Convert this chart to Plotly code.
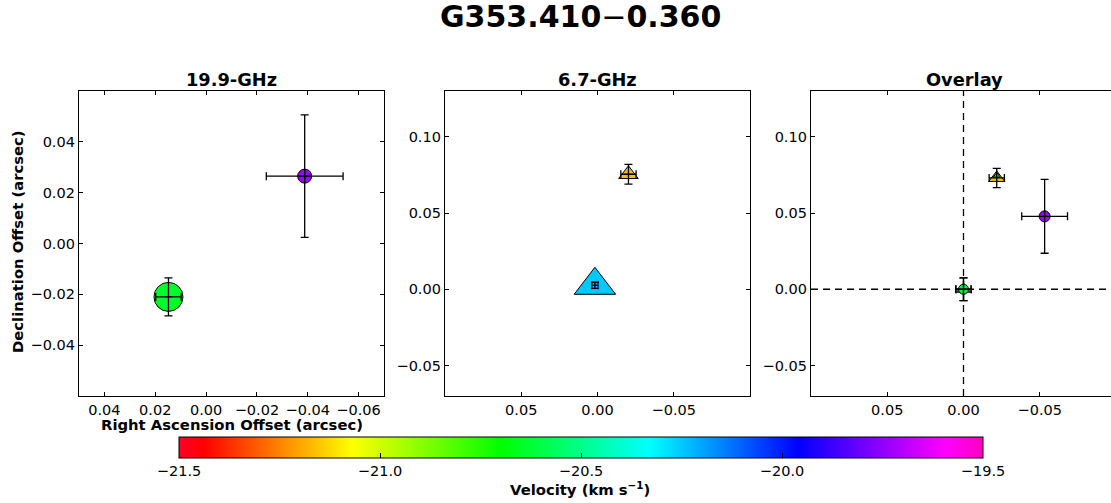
import plotly.graph_objects as go

W, H = 1111, 503

# ---------------- data ----------------
# 19.9-GHz panel (circles)
p1_ra = [0.0148, -0.0388]
p1_dec = [-0.0210, 0.0265]
p1_ra_err = [0.0050, 0.0151]
p1_dec_err = [0.0075, 0.0241]
p1_fit_err = [0.0014, 0.0020]
p1_vel = [-20.64, -19.73]
p1_size = [29, 14]

# 6.7-GHz panel (triangles)
p2_ra = [-0.0203, 0.0017]
p2_dec = [0.0754, 0.0026]
p2_ra_err = [0.0050, 0.0020]
p2_dec_err = [0.0065, 0.0020]
p2_fit_err = [0.0030, 0.0013]
p2_vel = [-21.17, -20.25]
p2_size = [17, 36]

# Overlay panel
p3c_ra = [0.0, -0.0532]
p3c_dec = [0.0, 0.0478]
p3c_ra_err = [0.0050, 0.0150]
p3c_dec_err = [0.0075, 0.0242]
p3c_vel = [-20.64, -19.73]
p3c_size = [10, 11]

p3t_ra = [0.0, -0.0218]
p3t_dec = [0.0, 0.0730]
p3t_ra_err = [0.0050, 0.0050]
p3t_dec_err = [0.0075, 0.0063]
p3t_vel = [-20.25, -21.17]
p3t_size = [12, 14]

p3g_ra = [-0.0218]
p3g_dec = [0.0745]
p3g_vel = [-20.64]
p3g_size = [6]

vel_ticks = [-21.5, -21.0, -20.5, -20.0, -19.5]
p1_xticks = [0.04, 0.02, 0.0, -0.02, -0.04, -0.06]
p1_yticks = [-0.04, -0.02, 0.0, 0.02, 0.04]
p2_xticks = [0.05, 0.0, -0.05]
p2_yticks = [-0.05, 0.0, 0.05, 0.10]

VMIN, VMAX = -21.5, -19.5

gist_rainbow = [
    [0.000, "rgb(255,0,41)"],
    [0.030, "rgb(255,0,0)"],
    [0.215, "rgb(255,255,0)"],
    [0.400, "rgb(0,255,0)"],
    [0.586, "rgb(0,255,255)"],
    [0.770, "rgb(0,0,255)"],
    [0.954, "rgb(255,0,255)"],
    [1.000, "rgb(255,0,191)"],
]

FONT = "DejaVu Sans"
TICK = 14.5


def px(x):
    return x / W


def py(y):
    return 1 - y / H


fig = go.Figure()


def markers(xs, ys, vel, size, symbol, xa, ya, showscale=False):
    mk = dict(
        color=vel, colorscale=gist_rainbow, cmin=VMIN, cmax=VMAX,
        size=size, symbol=symbol, line=dict(color="black", width=1),
        showscale=showscale, opacity=1,
    )
    if showscale:
        mk["colorbar"] = dict(
            orientation="h", x=px(581), xanchor="center",
            len=804 / W, lenmode="fraction",
            y=py(437), yanchor="top",
            thickness=21, thicknessmode="pixels",
            outlinewidth=1, outlinecolor="black",
            tickvals=vel_ticks, tickformat=".1f",
            ticks="inside", ticklen=5, tickcolor="black",
            tickfont=dict(family=FONT, size=TICK, color="black"),
            xpad=0, ypad=0,
        )
    fig.add_trace(go.Scatter(x=xs, y=ys, mode="markers", marker=mk,
                             xaxis=xa, yaxis=ya, showlegend=False,
                             hoverinfo="skip"))


def errbars(xs, ys, ex, ey, xa, ya, color="black", width=4, thick=1.3):
    fig.add_trace(go.Scatter(
        x=xs, y=ys, mode="markers",
        marker=dict(color="rgba(0,0,0,0)", size=1, line=dict(width=0)),
        error_x=dict(type="data", array=ex, color=color, thickness=thick, width=width),
        error_y=dict(type="data", array=ey, color=color, thickness=thick, width=width),
        xaxis=xa, yaxis=ya, showlegend=False, hoverinfo="skip"))


# Panel 1
markers(p1_ra, p1_dec, p1_vel, p1_size, "circle", "x", "y", showscale=True)
errbars(p1_ra, p1_dec, p1_fit_err, p1_fit_err, "x", "y", color="blue", width=0, thick=1)
errbars(p1_ra, p1_dec, p1_ra_err, p1_dec_err, "x", "y")

# Panel 2
markers(p2_ra, p2_dec, p2_vel, p2_size, "triangle-up", "x2", "y2")
errbars(p2_ra, p2_dec, p2_fit_err, p2_fit_err, "x2", "y2", color="blue", width=0, thick=1)
errbars(p2_ra, p2_dec, p2_ra_err, p2_dec_err, "x2", "y2")

# Panel 3
markers(p3t_ra, p3t_dec, p3t_vel, p3t_size, "triangle-up", "x3", "y3")
markers(p3g_ra, p3g_dec, p3g_vel, p3g_size, "triangle-up", "x3", "y3")
markers(p3c_ra, p3c_dec, p3c_vel, p3c_size, "circle", "x3", "y3")
errbars(p3t_ra, p3t_dec, p3t_ra_err, p3t_dec_err, "x3", "y3")
errbars(p3c_ra, p3c_dec, p3c_ra_err, p3c_dec_err, "x3", "y3")

ydom = [py(396), py(91)]
common = dict(
    showgrid=False, zeroline=False, showline=True, linecolor="black",
    linewidth=1.3, ticks="inside", ticklen=4, tickwidth=1.2, tickcolor="black",
    tickfont=dict(family=FONT, size=TICK, color="black"), tickformat=".2f",
)

fig.update_layout(
    width=W, height=H,
    margin=dict(l=0, r=0, t=0, b=0),
    paper_bgcolor="white", plot_bgcolor="white",
    font=dict(family=FONT, color="black"),
    xaxis=dict(domain=[px(79), px(384)], range=[0.05, -0.07], tickvals=p1_xticks,
               mirror="ticks", anchor="y", **common),
    yaxis=dict(domain=ydom, range=[-0.06, 0.06], tickvals=p1_yticks,
               mirror="ticks", anchor="x", **common),
    xaxis2=dict(domain=[px(445), px(750)], range=[0.1, -0.1], tickvals=p2_xticks,
                mirror="ticks", anchor="y2", **common),
    yaxis2=dict(domain=ydom, range=[-0.07, 0.13], tickvals=p2_yticks,
                mirror="ticks", anchor="x2", **common),
    xaxis3=dict(domain=[px(811), 1.0], range=[0.1, 0.1 - 0.2 * 300 / 305],
                tickvals=p2_xticks, mirror="ticks", anchor="y3", **common),
    yaxis3=dict(domain=ydom, range=[-0.07, 0.13], tickvals=p2_yticks,
                mirror=False, anchor="x3", **common),
)

# dashed reference lines in overlay
fig.add_shape(type="line", xref="x3", yref="y3 domain", x0=0, x1=0, y0=0, y1=1,
              line=dict(color="black", width=1.3, dash="7px,5px"), layer="below")
fig.add_shape(type="line", xref="x3 domain", yref="y3", x0=0, x1=1, y0=0, y1=0,
              line=dict(color="black", width=1.3, dash="7px,5px"), layer="below")

ann = [
    dict(text="<b>G353.410</b>−<b>0.360</b>", x=px(580), y=py(16.5), size=30),
    dict(text="<b>19.9-GHz</b>", x=px(231.5), y=py(79), size=17.8),
    dict(text="<b>6.7-GHz</b>", x=px(597.5), y=py(79), size=17.8),
    dict(text="<b>Overlay</b>", x=px(964), y=py(79), size=17.8),
    dict(text="<b>Right Ascension Offset (arcsec)</b>", x=px(231.5), y=py(424), size=14.8),
    dict(text="<b>Velocity (km s<sup>−1</sup>)</b>", x=px(580), y=py(488), size=14.8),
]
for a in ann:
    fig.add_annotation(text=a["text"], x=a["x"], y=a["y"], xref="paper", yref="paper",
                       xanchor="center", yanchor="middle", showarrow=False,
                       font=dict(family=FONT, size=a["size"], color="black"))
fig.add_annotation(text="<b>Declination Offset (arcsec)</b>", x=px(18), y=py(242),
                   xref="paper", yref="paper", xanchor="center", yanchor="middle",
                   textangle=-90, showarrow=False,
                   font=dict(family=FONT, size=14.8, color="black"))

fig.write_html(
    "out.html",
    config={"displayModeBar": False},
    post_script="document.body.style.margin='0';document.body.style.overflow='hidden';",
)
